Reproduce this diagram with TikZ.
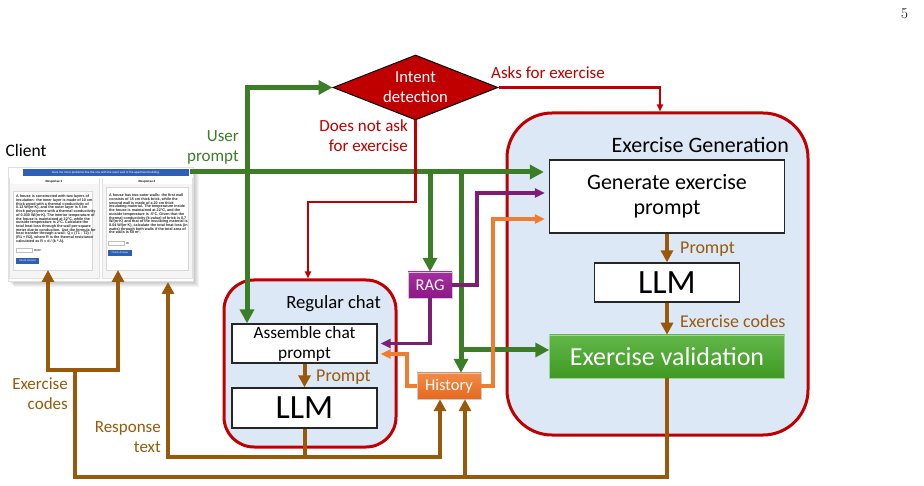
\documentclass[tikz,border=0pt]{standalone}
\usepackage{fontspec}
\newfontfamily\carl{Carlito}
\newfontfamily\arl{Liberation Sans}
\usetikzlibrary{arrows.meta,shapes.geometric}
\definecolor{cgreen}{HTML}{3E7D28}
\definecolor{cbrown}{HTML}{985A0A}
\definecolor{cred}{HTML}{C00000}
\definecolor{cpurple}{HTML}{7C1F72}
\definecolor{corange}{HTML}{ED7D31}
\definecolor{cblue}{HTML}{DCE8F5}
\definecolor{cbar}{HTML}{2E5FB4}
\definecolor{cvalA}{HTML}{62B649}
\definecolor{cvalB}{HTML}{3E9A22}
\definecolor{cragA}{HTML}{A52FA0}
\definecolor{cragB}{HTML}{8C1786}
\definecolor{chisA}{HTML}{F28A45}
\definecolor{chisB}{HTML}{E5691F}

\tikzset{
  lbl/.style={inner sep=0pt, font=\carl\fontsize{17}{20}\selectfont},
  box/.style={draw=black!85, line width=1.3pt, fill=white, inner sep=0pt, align=center},
  region/.style={draw=cred, line width=3pt, fill=cblue, rounded corners=#1, inner sep=0pt},
  tag/.style={inner sep=0pt, text=white, font=\carl\fontsize{16.5}{18}\selectfont, draw=white!80!black, line width=0.4pt},
  gline/.style={draw=cgreen, line width=5pt},
  bline/.style={draw=cbrown, line width=4pt},
  rline/.style={draw=cred, line width=2.5pt},
  pline/.style={draw=cpurple, line width=3.3pt},
  oline/.style={draw=corange, line width=3.3pt},
  gtip/.style={-{Triangle[length=14pt,width=14pt]}},
  btip/.style={-{Triangle[length=12pt,width=12pt]}},
  rtip/.style={-{Triangle[length=7pt,width=6pt]}},
  ctip/.style={-{Triangle[length=10pt,width=9pt]}},
  tiny/.style={inner sep=0pt, font=\arl\bfseries\fontsize{3.7}{3.7}\selectfont, align=left, anchor=north west, text=black!85},
  minitext/.style={inner sep=0pt, font=\arl\fontsize{3}{3}\selectfont},
}

\begin{document}
\begin{tikzpicture}[x=1pt,y=-1pt]
\useasboundingbox (0,0) rectangle (924,486);

% page number
\node[inner sep=0pt, font=\rmfamily\fontsize{15}{15}\selectfont] (pageno) at (904.5,14) {5};

% ---- processing regions ----
\node[region=45pt, minimum width=301pt, minimum height=322pt] (exgen) at (657.5,274) {};
\node[region=30pt, minimum width=172pt, minimum height=167pt] (chat) at (310,363.5) {};
\node[lbl, anchor=east, font=\carl\fontsize{22}{24}\selectfont] (exgentitle) at (789,145) {Exercise Generation};
\node[lbl, anchor=east, font=\carl\fontsize{18.7}{20}\selectfont] (chattitle) at (381,304) {Regular chat};

% ---- boxes ----
\node[box, minimum width=235pt, minimum height=73pt, font=\carl\fontsize{22}{25}\selectfont] (genprompt) at (667,196.5) {Generate exercise\\prompt};
\node[box, minimum width=145pt, minimum height=39pt, font=\carl\fontsize{34}{36}\selectfont] (llmA) at (667,282.5) {LLM};
\node[inner sep=0pt, minimum width=235pt, minimum height=43pt, top color=cvalA, bottom color=cvalB, draw=cvalA!60!white, line width=0.5pt, text=white, font=\carl\fontsize{26}{28}\selectfont] (validation) at (667,356.5) {Exercise validation};
\node[box, minimum width=145pt, minimum height=39pt, font=\carl\fontsize{17.3}{20}\selectfont] (assemble) at (304.5,343.5) {Assemble chat\\prompt};
\node[box, minimum width=145pt, minimum height=40pt, font=\carl\fontsize{34}{36}\selectfont] (llmB) at (304.5,408) {LLM};
\node[tag, minimum width=44pt, minimum height=26pt, top color=cragA, bottom color=cragB] (rag) at (430,285) {RAG};
\node[tag, minimum width=64pt, minimum height=26pt, top color=chisA, bottom color=chisB] (history) at (449,386) {History};

% ---- intent detection ----
\node[diamond, minimum width=165pt, minimum height=65pt, inner sep=0pt, fill=cred, draw=black, line width=1pt] (intent) at (415.5,87.5) {};
\node[inner sep=0pt, text=white, align=center, font=\carl\fontsize{16.7}{20}\selectfont] (intenttext) at (intent) {Intent\\detection};

% ---- client screenshot ----
\foreach \s in {1,...,6}{
  \fill[black, opacity=0.045] (8+\s,168+\s) rectangle (193+\s,281+\s);
}
\node[draw=black!12, fill=white, minimum width=185pt, minimum height=114pt, inner sep=0pt] (client) at (100.5,224) {};
\node[fill=cbar, minimum width=166pt, minimum height=7pt, inner sep=0pt, text=white, font=\arl\fontsize{3}{3}\selectfont] (request) at (106,172.5) {Give me more problems like the one with the outer wall of the apartment building.};
\node[draw=black!12, fill=black!4, minimum width=90pt, minimum height=100pt, inner sep=0pt] (panelA) at (54,228) {};
\node[draw=black!12, fill=black!4, minimum width=90pt, minimum height=100pt, inner sep=0pt] (panelB) at (147,228) {};
\node[fill=white, minimum width=89pt, minimum height=6pt, inner sep=0pt, font=\arl\bfseries\fontsize{3}{3}\selectfont] (headA) at (54,181.5) {Response 1};
\node[fill=white, minimum width=89pt, minimum height=6pt, inner sep=0pt, font=\arl\bfseries\fontsize{3}{3}\selectfont] (headB) at (147,181.5) {Response 2};
\node[draw=black!15, fill=white, minimum width=79pt, minimum height=79pt, inner sep=0pt] (cardA) at (52.5,230.5) {};
\node[draw=black!15, fill=white, minimum width=82pt, minimum height=83pt, inner sep=0pt] (cardB) at (147,228.5) {};
\node[tiny] (textA) at (16,195) {A house is constructed with two layers of\\insulation: the inner layer is made of 10 cm\\thick wood with a thermal conductivity of\\0.12 W/(m·K), and the outer layer is 5 cm\\thick polystyrene with a thermal conductivity\\of 0.030 W/(m·K). The interior temperature of\\the house is maintained at 22°C, while the\\outside temperature is 2°C. Calculate the\\total heat loss through the wall per square\\meter due to conduction. Use the formula for\\heat transfer through a wall: Q = (T1 - T2) /\\(R1 + R2), where R is the thermal resistance\\calculated as R = d / (k * A).};
\node[tiny] (textB) at (109,194) {A house has two outer walls: the first wall\\consists of 15 cm thick brick, while the\\second wall is made of a 20 cm thick\\insulating material. The temperature inside\\the house is maintained at 22°C, and the\\outside temperature is -5°C. Given that the\\thermal conductivity (k-value) of brick is 0.7\\W/(m·K) and that of the insulating material is\\0.04 W/(m·K), calculate the total heat loss (in\\watts) through both walls if the total area of\\the walls is 50 m².};
\node[draw=black!25, fill=white, minimum width=16pt, minimum height=4pt, inner sep=0pt] (inA) at (24,250.5) {};
\node[minitext, anchor=west] (unitA) at (34,250.5) {W/m²};
\node[fill=cbar, minimum width=23pt, minimum height=6pt, inner sep=0pt, text=white, font=\arl\fontsize{2.6}{3}\selectfont] (btnA) at (27.5,261) {Check Answer};
\node[draw=black!25, fill=white, minimum width=16pt, minimum height=4pt, inner sep=0pt] (inB) at (116,243.5) {};
\node[minitext, anchor=west] (unitB) at (126,243.5) {W};
\node[fill=cbar, minimum width=24pt, minimum height=6pt, inner sep=0pt, text=white, font=\arl\fontsize{2.6}{3}\selectfont] (btnB) at (120,253) {Check Answer};

% ---- user prompt (green) ----
\coordinate (gA) at (247,172);
\coordinate (gB) at (rag.north |- gA);
\coordinate (gC) at (461,172);
\coordinate (gD) at (461,350);
\draw[gline, gtip] (gA) |- (intent.west);
\draw[gline, gtip] (gA) -- (gA |- assemble.north);
\draw[gline, gtip] (gB) -- (rag.north);
\draw[gline, gtip] (gC) -- (gC |- history.north);
\draw[gline, gtip] (gD) -- (validation.west |- gD);
\draw[gline, gtip, shorten >=5pt] ([xshift=-3pt]client.east |- gA) -- (genprompt.west |- gA);

% ---- intent decisions (red) ----
\coordinate (rB) at (308,202);
\draw[rline, rtip] (intent.east) -| ([xshift=2.5pt]exgen.north);
\draw[rline, rtip] (intent.south) |- (rB) -- (rB |- chat.north);

% ---- retrieval (purple) ----
\coordinate (pA) at (477,193);
\draw[pline, ctip, shorten >=4pt] (rag.east) -| (pA) -- (genprompt.west |- pA);
\draw[pline, ctip, shorten >=3pt] (rag.south) |- (assemble.east);

% ---- history (orange) ----
\coordinate (oA) at (407,354);
\coordinate (oB) at (493,219);
\draw[oline, ctip, shorten >=3pt] (history.west) -| (oA) -- (assemble.east |- oA);
\draw[oline, ctip, shorten >=4pt] (history.east) -| (oB) -- (genprompt.west |- oB);

% ---- model outputs (brown) ----
\draw[bline, btip] (genprompt.south) -- (llmA.north);
\draw[bline, btip] (llmA.south) -- (validation.north);
\draw[bline, btip] (assemble.south) -- (llmB.north);

\coordinate (bA) at (75,477);
\coordinate (bB) at (75,370);
\coordinate (bC) at (48,270);
\coordinate (bD) at (118,270);
\coordinate (bE) at (465,477);
\coordinate (bF) at (304.5,457);
\coordinate (bG) at (168,282);
\draw[bline] (validation.south) |- (bA) -- (bB);
\draw[bline, btip] (bB) -| (bC);
\draw[bline, btip] (bB) -| (bD);
\draw[bline, btip] (bE) -- (bE |- history.south);
\draw[bline] (llmB.south) -- (bF);
\draw[bline, btip] (bF) -| (bG);
\draw[bline, btip] (bF) -| ([xshift=-9pt]history.south);

% ---- labels ----
\node[lbl, font=\carl\fontsize{17.5}{20}\selectfont] (clientlbl) at (26,150) {Client};
\node[lbl, text=cgreen, align=right, anchor=east] (userlbl) at (239,147) {User\\prompt};
\node[lbl, text=cred] (askslbl) at (548,73) {Asks for exercise};
\node[lbl, text=cred, align=right, anchor=east] (notlbl) at (408,136) {Does not ask\\for exercise};
\node[lbl, text=cbrown, anchor=west, font=\carl\fontsize{18}{20}\selectfont] (promptA) at (680,249) {Prompt};
\node[lbl, text=cbrown, anchor=west, font=\carl\fontsize{18}{20}\selectfont] (codesA) at (680,321) {Exercise codes};
\node[lbl, text=cbrown, anchor=west, font=\carl\fontsize{18}{20}\selectfont] (promptB) at (316,377) {Prompt};
\node[lbl, text=cbrown, align=right, anchor=east] (codesB) at (68,394) {Exercise\\codes};
\node[lbl, text=cbrown, align=right, anchor=east] (resplbl) at (161,437) {Response\\text};
\end{tikzpicture}
\end{document}
